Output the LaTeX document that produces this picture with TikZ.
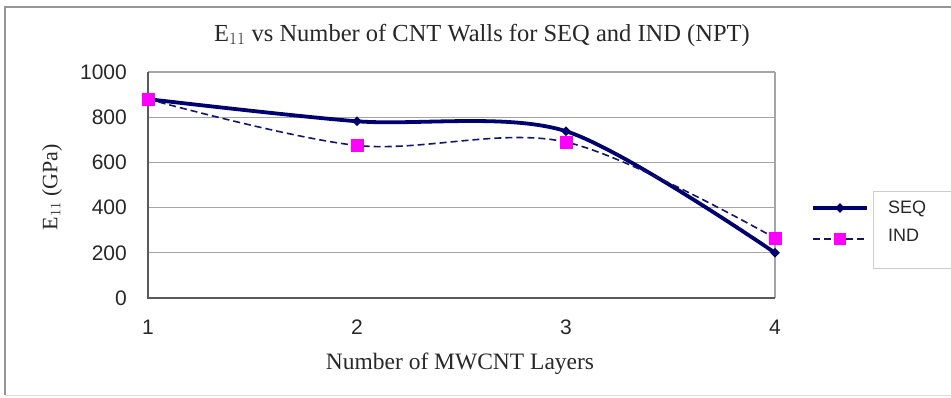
\documentclass[tikz,border=0pt]{standalone}
\usepackage{fontspec}
\setmainfont{Liberation Serif}
\newfontfamily\arialf{Liberation Sans}
\usetikzlibrary{shapes.geometric}
\definecolor{navyc}{RGB}{0,0,112}
\definecolor{magc}{RGB}{255,0,255}
\definecolor{gridc}{RGB}{165,165,165}
\definecolor{axisc}{RGB}{90,90,90}
\definecolor{framec}{RGB}{150,150,150}
\definecolor{textc}{RGB}{40,40,40}
\tikzset{
  gridline/.style={draw=gridc, line width=1.2pt},
  axisline/.style={draw=axisc, line width=1.5pt},
  seqline/.style={draw=navyc, line width=3.8pt, line join=round},
  indline/.style={draw=navyc!85!gray, line width=1.6pt, dash pattern=on 7pt off 4pt},
  seqmark/.style={diamond, fill=navyc, inner sep=0pt, minimum width=10pt, minimum height=10pt},
  indmark/.style={rectangle, fill=magc, inner sep=0pt, minimum size=13pt},
  ticklab/.style={font=\arialf\fontsize{21}{21}\selectfont, text=textc, inner sep=0pt},
  axtitle/.style={font=\fontsize{23.5}{23.5}\selectfont, text=textc, inner sep=0pt},
  legtext/.style={font=\arialf\fontsize{18}{18}\selectfont, text=textc, inner sep=0pt, anchor=west}
}
\begin{document}
\begin{tikzpicture}[x=1pt,y=-1pt]
\useasboundingbox (0,0) rectangle (951,397);
\fill[white] (0,0) rectangle (951,397);
% outer frame
\draw[framec, line width=1.5pt] (5,395) -- (5,7) -- (951,7);
\draw[gray!30, line width=1pt] (5,395) -- (951,395);
% title
\node[axtitle, font=\fontsize{24.5}{24.5}\selectfont] (title) at (482,35) {E$_{11}$ vs Number of CNT Walls for SEQ and IND (NPT)};
% y-axis title
\node[axtitle, rotate=90, font=\fontsize{22}{22}\selectfont] (ytitle) at (52,187) {E$_{11}$ (GPa)};
% x-axis title
\node[axtitle] (xtitle) at (460,364) {Number of MWCNT Layers};
\begin{scope}[shift={(148,298)}, x=209pt, y=0.226pt]
  \foreach \v in {200,400,600,800,1000} {
    \draw[gridline] (0,\v) -- (3,\v);
  }
  \draw[gridline] (3,0) -- (3,1000);
  \draw[axisline] (0,1000) -- (0,0) -- (3,0);
  \foreach \v in {0,200,400,600,800,1000} {
    \node[ticklab, anchor=east] (yt\v) at ([xshift=-21pt]0,\v) {\v};
  }
  \foreach \n in {1,2,3,4} {
    \node[ticklab] (xt\n) at ([yshift=-29pt]\n-1,0) {\n};
  }
  % data
  \coordinate (s1) at (0,880); \coordinate (s2) at (1,782);
  \coordinate (s3) at (2,738); \coordinate (s4) at (3,200);
  \coordinate (i1) at (0,880); \coordinate (i2) at (1,675);
  \coordinate (i3) at (2,690); \coordinate (i4) at (3,265);
  \draw[seqline] plot[smooth, tension=0.5] coordinates {(s1) (s2) (s3) (s4)};
  \draw[indline] plot[smooth, tension=0.55] coordinates {(i1) (i2) (i3) (i4)};
  \foreach \k in {1,2,3,4} { \node[seqmark] (ms\k) at (s\k) {}; }
  \foreach \k in {1,2,3,4} { \node[indmark] (mi\k) at (i\k) {}; }
\end{scope}
% legend
\draw[draw=gray!40, line width=1pt] (873,191) rectangle (960,268);
\coordinate (la1) at (813,208); \coordinate (lb1) at (867,208);
\coordinate (la2) at (813,239); \coordinate (lb2) at (867,239);
\draw[seqline] (la1) -- (lb1);
\node[seqmark] (lm1) at (840,208) {};
\draw[indline] (la2) -- (lb2);
\node[indmark, minimum size=12pt] (lm2) at (840,239) {};
\node[legtext] (l1) at (888,209) {SEQ};
\node[legtext] (l2) at (888,235) {IND};
\end{tikzpicture}
\end{document}
